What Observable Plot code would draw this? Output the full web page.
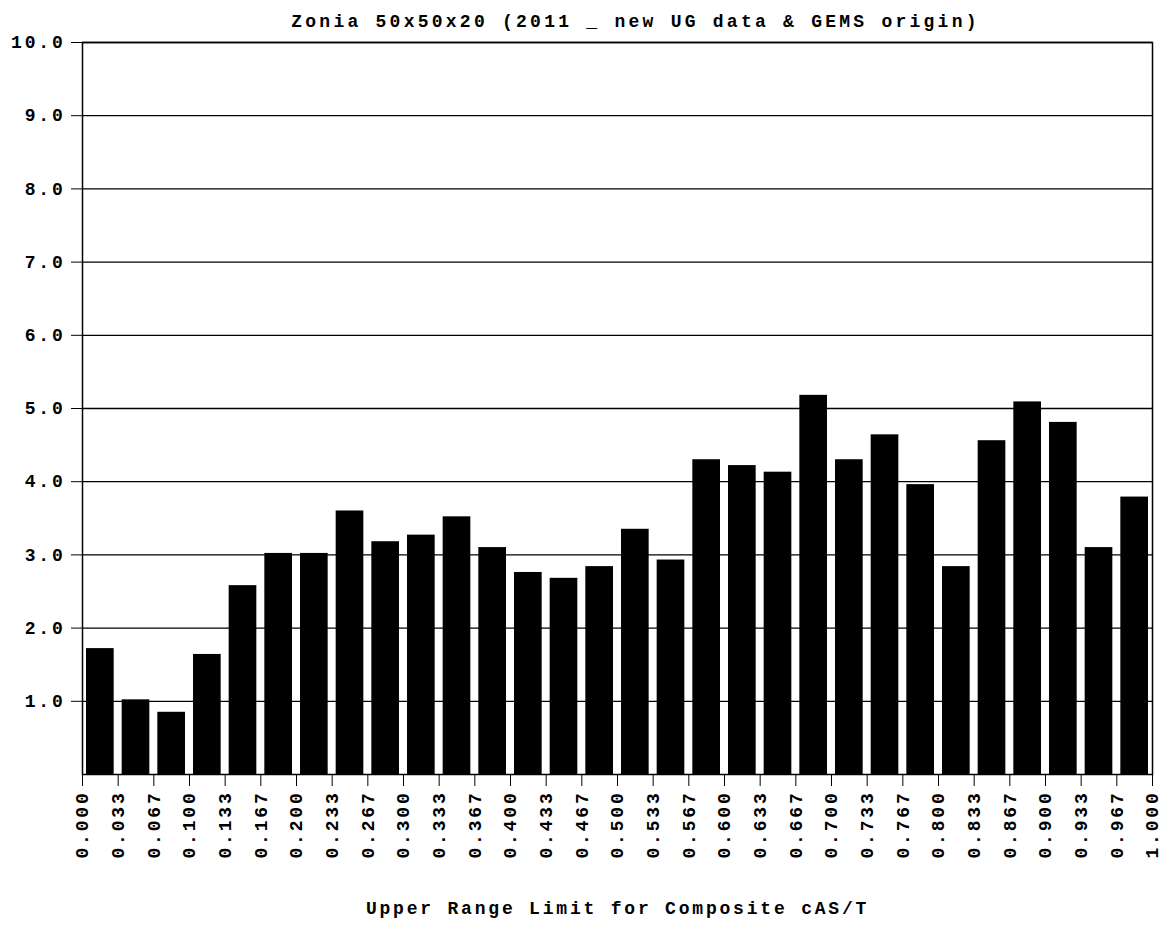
<!DOCTYPE html>
<html><head><meta charset="utf-8">
<script src="https://cdn.jsdelivr.net/npm/d3@7"></script>
<script src="https://cdn.jsdelivr.net/npm/@observablehq/plot@0.6"></script>
<style>
body{margin:0;background:#fff;}
</style></head><body><div id="chart"></div>
<script>
const title = "Zonia 50x50x20 (2011 _ new UG data & GEMS origin)";
const xLabel = "Upper Range Limit for Composite cAS/T";
const binLimits = ["0.000","0.033","0.067","0.100","0.133","0.167","0.200","0.233","0.267","0.300",
  "0.333","0.367","0.400","0.433","0.467","0.500","0.533","0.567","0.600","0.633",
  "0.667","0.700","0.733","0.767","0.800","0.833","0.867","0.900","0.933","0.967","1.000"];
const values = [1.72,1.02,0.85,1.64,2.58,3.02,3.02,3.60,3.18,3.27,
  3.52,3.10,2.76,2.68,2.84,3.35,2.93,4.30,4.22,4.13,
  5.18,4.30,4.64,3.96,2.84,4.56,5.09,4.81,3.10,3.79];
const yTicks = [1,2,3,4,5,6,7,8,9,10];

const bins = values.map((v, i) => ({lo: i, hi: i + 1, v}));
const font = '"Liberation Mono","Courier New",monospace';

const chart = Plot.plot({
  width: 1167, height: 928,
  marginTop: 42, marginBottom: 154, marginLeft: 82, marginRight: 15,
  style: {fontFamily: font, fontSize: "18px", fontWeight: "bold", letterSpacing: "2.8px", color: "#000", background: "#fff"},
  x: {domain: [0, 30], ticks: d3.range(binLimits.length), tickFormat: i => binLimits[i],
      tickRotate: -90, tickSize: 12, tickPadding: 4, label: null},
  y: {domain: [0, 10], ticks: yTicks, tickFormat: d => d.toFixed(1), tickSize: 11, tickPadding: 6, label: null},
  marks: [
    Plot.ruleY(yTicks, {stroke: "#000", strokeWidth: 1.3}),
    Plot.rectY(bins, {x1: "lo", x2: "hi", y: "v", fill: "#000", insetLeft: 4, insetRight: 4}),
    Plot.frame({stroke: "#000", strokeWidth: 1.5}),
    Plot.text([title], {frameAnchor: "top", dy: -28, dx: 18, fontSize: 18, fill: "#000"}),
    Plot.text([xLabel], {frameAnchor: "bottom", dy: 139, fontSize: 18, fill: "#000"})
  ]
});
d3.select(chart).selectAll("text").filter(function() { return this.textContent === title; })
  .style("letter-spacing", "3.25px");
document.getElementById("chart").appendChild(chart);
</script></body></html>
